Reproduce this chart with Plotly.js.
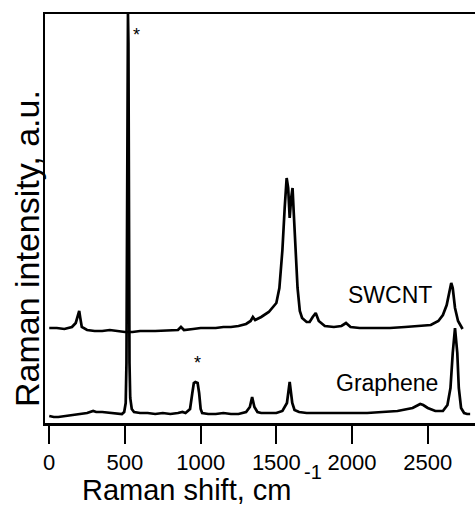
<!DOCTYPE html>
<html>
<head>
<meta charset="utf-8">
<script src="https://cdn.plot.ly/plotly-3.0.1.min.js"></script>
<style>html,body{margin:0;padding:0;background:#fff;}#chart{width:475px;height:505px;}</style>
</head>
<body>
<div id="chart"></div>
<script>
// Raman shift (cm^-1) and intensity (a.u.)
const grapheneShift = [0,30,60,100,150,200,250,290,310,350,400,450,480,495,505,510,515,518,520,523,526,530,535,545,560,600,650,700,750,800,850,880,900,930,945,955,965,980,990,1000,1010,1050,1100,1150,1200,1250,1300,1325,1340,1355,1375,1400,1450,1500,1540,1570,1588,1605,1620,1650,1700,1800,1900,2000,2100,2200,2300,2400,2450,2470,2500,2550,2600,2630,2650,2665,2680,2695,2705,2720,2740,2760,2780];
const grapheneInt   = [7,6,6,7,8,9,10,12,11,11,10,9,9,11,20,60,200,380,409,380,200,60,25,14,11,10,10,9,10,9,10,11,10,14,30,40,41,40,30,14,10,9,9,10,9,9,11,16,26,16,11,10,10,10,12,20,41,20,13,11,10,10,10,10,10,11,12,15,19,18,15,12,12,18,35,70,95,70,35,15,10,9,9];

const swcntShift = [0,50,100,150,175,190,198,205,215,250,300,350,400,450,500,550,600,700,800,850,870,890,950,1000,1050,1100,1150,1200,1250,1300,1330,1345,1360,1400,1450,1500,1520,1540,1555,1568,1578,1588,1598,1607,1615,1625,1640,1655,1670,1700,1720,1740,1760,1780,1820,1880,1930,1960,1990,2050,2150,2250,2350,2450,2520,2570,2600,2625,2640,2655,2665,2680,2700,2720,2730];
const swcntInt   = [95,95,94,96,100,110,112,105,96,93,92,92,93,92,91,91,92,92,93,93,96,93,94,95,95,95,96,96,97,99,102,106,103,106,111,120,135,173,215,245,235,205,225,235,210,173,135,112,105,101,101,106,110,102,97,96,97,100,96,95,95,95,96,97,98,102,108,118,130,140,135,115,102,97,94];

const seriesLabels = ["SWCNT", "Graphene"];
const labelPos = [[2250,128],[2233,40]];
const starPos = [[573,388],[982,60]];
const xTickVals = [0,500,1000,1500,2000,2500];

const F = "Liberation Sans, Arial, sans-serif";
const line = {color:"#000", width:2.7};

const data = [
  {x:grapheneShift, y:grapheneInt, mode:"lines", line:line, hoverinfo:"skip"},
  {x:swcntShift, y:swcntInt, mode:"lines", line:line, hoverinfo:"skip"}
];

const annotations = [];
seriesLabels.forEach((t,i)=>annotations.push({x:labelPos[i][0], y:labelPos[i][1], xref:"x", yref:"y", text:t, showarrow:false, font:{family:F,size:23,color:"#000"}}));
starPos.forEach(p=>annotations.push({x:p[0], y:p[1], xref:"x", yref:"y", text:"*", showarrow:false, font:{family:F,size:18,color:"#000"}}));
// figure-pixel positioned titles (converted below to plot-area paper fractions)
const figTexts = [
  {px:187, py:490, text:"Raman shift, cm", size:29, angle:0},
  {px:313, py:472, text:"-1", size:20, angle:0},
  {px:27, py:249, text:"Raman intensity, a.u.", size:34, angle:-90}
];
figTexts.forEach(t=>annotations.push({x:(t.px-45)/430, y:(423-t.py)/409, xref:"paper", yref:"paper", text:t.text, textangle:t.angle, showarrow:false, font:{family:F,size:t.size,color:"#000"}, xanchor:"center", yanchor:"middle"}));

const layout = {
  width:475, height:505,
  margin:{l:45, r:0, t:14, b:82, pad:0},
  paper_bgcolor:"#fff", plot_bgcolor:"#fff",
  showlegend:false,
  xaxis:{range:[-28,2812], tickvals:xTickVals, ticks:"outside", ticklen:18, tickwidth:2, tickcolor:"#000",
         showline:true, linewidth:2.5, linecolor:"#000", mirror:true, showgrid:false, zeroline:false,
         tickfont:{family:F, size:22, color:"#000"}},
  yaxis:{range:[0,409], showticklabels:false, ticks:"", showline:true, linewidth:2.5, linecolor:"#000",
         showgrid:false, zeroline:false},
  annotations: annotations
};
Plotly.newPlot("chart", data, layout, {displayModeBar:false, staticPlot:true});
</script>
</body>
</html>
